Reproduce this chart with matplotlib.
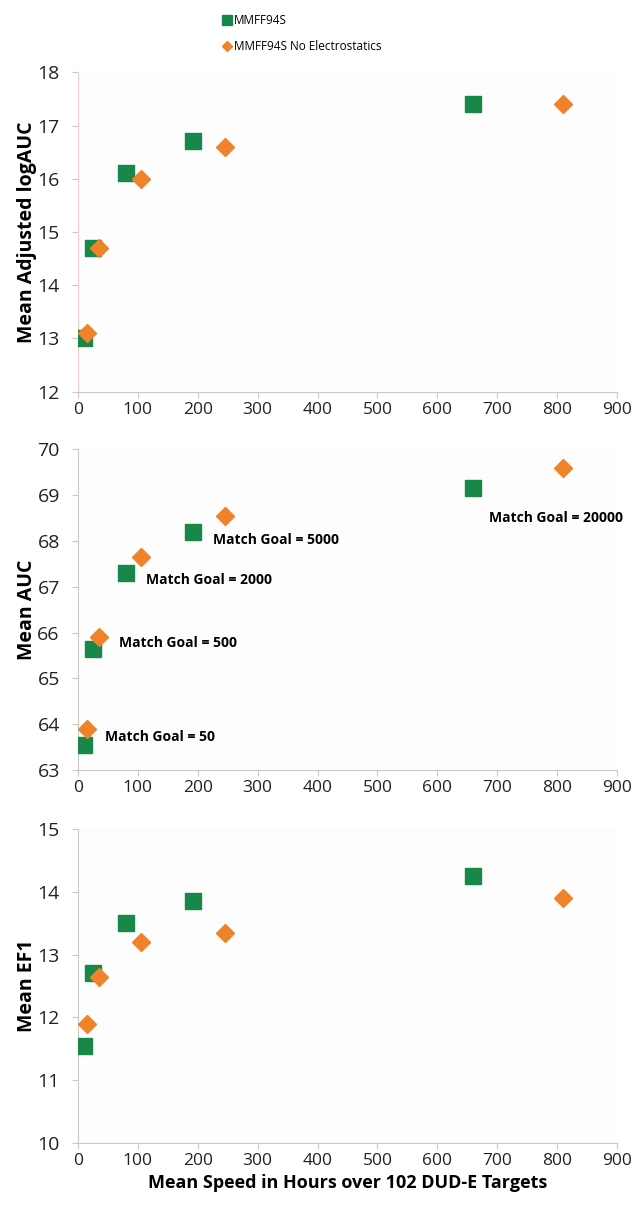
import matplotlib.pyplot as plt

# x = mean speed (hours over 102 DUD-E targets)
x_mmff = [10, 25, 80, 192, 660]
x_noel = [15, 35, 105, 245, 810]

# panel 1: mean adjusted logAUC
logauc_mmff = [13.0, 14.7, 16.1, 16.7, 17.4]
logauc_noel = [13.1, 14.7, 16.0, 16.6, 17.4]

# panel 2: mean AUC
auc_mmff = [63.55, 65.65, 67.3, 68.2, 69.15]
auc_noel = [63.9, 65.9, 67.65, 68.55, 69.6]

# panel 3: mean EF1
ef1_mmff = [11.55, 12.7, 13.5, 13.85, 14.25]
ef1_noel = [11.9, 12.65, 13.2, 13.35, 13.9]

goal_labels = ['Match Goal = 50', 'Match Goal = 500', 'Match Goal = 2000',
               'Match Goal = 5000', 'Match Goal = 20000']
goal_x = [45, 68, 113, 225, 686]
goal_y = [63.72, 65.78, 67.15, 68.03, 68.5]

green = '#17884a'
orange = '#f0822a'
plt.rcParams['font.family'] = ['Open Sans', 'DejaVu Sans']

fig = plt.figure(figsize=(6.33, 12.05), dpi=100)
fig.patch.set_facecolor('white')

panels = [
    ([0.123, 0.675, 0.852, 0.265], logauc_mmff, logauc_noel, (12, 18), 'Mean Adjusted logAUC', '#f3c9c9'),
    ([0.123, 0.361, 0.852, 0.266], auc_mmff, auc_noel, (63, 70), 'Mean AUC', '#c8c8c8'),
    ([0.123, 0.0515, 0.852, 0.2606], ef1_mmff, ef1_noel, (10, 15), 'Mean EF1', '#c8c8c8'),
]

axes = []
for rect, ym, yn, ylim, ylab, spc in panels:
    ax = fig.add_axes(rect)
    ax.set_facecolor('#fdfdfd')
    l1, = ax.plot(x_mmff, ym, 's', color=green, ms=12, label='MMFF94S', zorder=3)
    l2, = ax.plot(x_noel, yn, 'D', color=orange, ms=9.5, label='MMFF94S No Electrostatics', zorder=4)
    ax.set_xlim(0, 900)
    ax.set_ylim(*ylim)
    ax.set_xticks(range(0, 901, 100))
    ax.set_yticks(range(ylim[0], ylim[1] + 1))
    ax.set_ylabel(ylab, fontsize=14, fontweight='bold', labelpad=0)
    for s in ['top', 'right']:
        ax.spines[s].set_visible(False)
    ax.spines['left'].set_color(spc)
    ax.spines['bottom'].set_color('#c8c8c8')
    ax.tick_params(axis='x', labelsize=12.5, colors='#c8c8c8', labelcolor='#222222',
                   length=4, width=0.8)
    ax.tick_params(axis='y', labelsize=14, colors='#c8c8c8', labelcolor='#222222',
                   length=4, width=0.8, pad=9)
    axes.append(ax)

for lab, gx, gy in zip(goal_labels, goal_x, goal_y):
    axes[1].text(gx, gy, lab, fontsize=10, fontweight='bold', va='center', ha='left',
                 fontstretch='condensed')

axes[2].set_xlabel('Mean Speed in Hours over 102 DUD-E Targets', fontsize=13, fontweight='bold',
                   labelpad=3)

fig.legend(handles=[l1, l2], loc='upper left', bbox_to_anchor=(0.336, 0.997),
           frameon=False, fontsize=8.5, handlelength=0.6, handletextpad=0.3,
           labelspacing=1.1, markerscale=0.55)

fig.savefig('out.png', dpi=100)
